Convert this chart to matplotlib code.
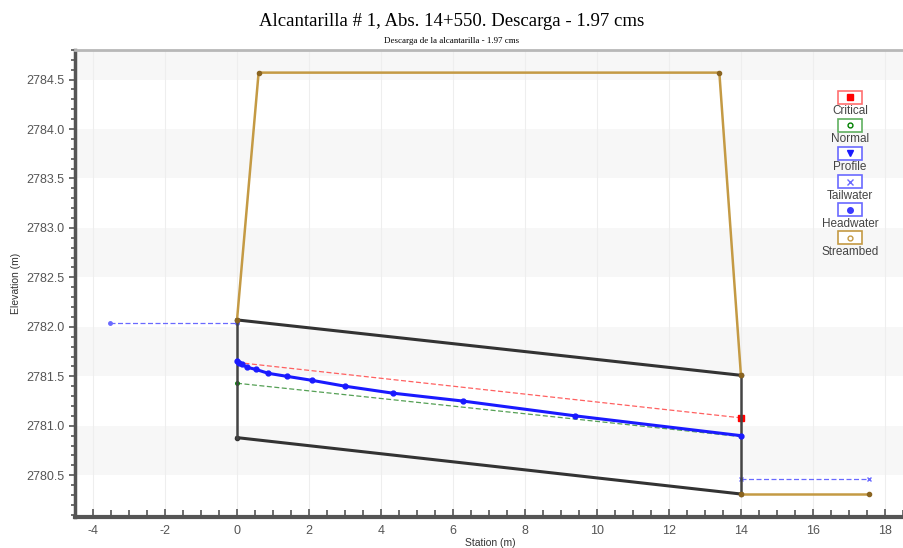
import matplotlib.pyplot as plt
from matplotlib.patches import Rectangle
from matplotlib.ticker import MultipleLocator

plt.rcParams['axes.unicode_minus'] = False

# ---- data ----
station_profile = [0.0, 0.05, 0.13, 0.29, 0.52, 0.87, 1.38, 2.07, 3.0, 4.32, 6.27, 9.4, 14.0]
elev_profile = [2781.65, 2781.63, 2781.62, 2781.59, 2781.57, 2781.53, 2781.50,
                2781.46, 2781.40, 2781.33, 2781.25, 2781.10, 2780.90]

station_critical = [0.0, 14.0]
elev_critical = [2781.64, 2781.08]

station_normal = [0.0, 14.0]
elev_normal = [2781.43, 2780.89]

station_headwater = [-3.53, 0.0]
elev_headwater = [2782.04, 2782.04]

station_tailwater = [14.0, 17.56]
elev_tailwater = [2780.46, 2780.46]

station_road = [0.0, 0.6, 13.4, 14.0]
elev_road = [2782.07, 2784.57, 2784.57, 2781.51]
station_channel = [14.0, 17.56]
elev_channel = [2780.31, 2780.31]

# culvert outline: top, bottom
culvert_top_x = [0.0, 14.0]
culvert_top_y = [2782.07, 2781.51]
culvert_bot_x = [0.0, 14.0]
culvert_bot_y = [2780.88, 2780.31]

legend_names = ['Critical', 'Normal', 'Profile', 'Tailwater', 'Headwater', 'Streambed']

tan = '#c49a44'
fig = plt.figure(figsize=(9.04, 5.48), dpi=100)
ax = fig.add_axes([0.083, 0.057, 0.917, 0.852])

xmin, xmax = -4.5, 18.53
ymin, ymax = 2780.08, 2784.80
ax.set_xlim(xmin, xmax)
ax.set_ylim(ymin, ymax)

# alternating horizontal bands
b = 2780.5
while b < ymax:
    ax.axhspan(b, b + 0.5, color='#f7f7f7', zorder=0, lw=0)
    b += 1.0
for xv in range(-4, 19, 2):
    ax.axvline(xv, color='#eeeeee', lw=0.8, zorder=0.5)

ax.plot(station_headwater, elev_headwater, color='#6a6aff', lw=0.9, ls=(0, (4, 2)),
        marker='o', ms=2.5, zorder=3)
ax.plot(station_tailwater, elev_tailwater, color='#6a6aff', lw=0.9, ls=(0, (4, 2)),
        marker='x', ms=3, zorder=3)
ax.plot(station_critical, elev_critical, color='#ff6060', lw=0.9, ls=(0, (4, 2)),
        zorder=3)
ax.plot(station_critical[-1:], elev_critical[-1:], 's', color='red', ms=4, zorder=4)
ax.plot(station_normal, elev_normal, color='#55a055', lw=0.9, ls=(0, (4, 2)), zorder=3)
ax.plot(station_normal[:1], elev_normal[:1], 'o', color='green', ms=2.5, zorder=4)

ax.plot(culvert_top_x, culvert_top_y, color='#333333', lw=2.2, marker='o', ms=3, zorder=4)
ax.plot(culvert_bot_x, culvert_bot_y, color='#333333', lw=2.2, marker='o', ms=3, zorder=4)
ax.plot([culvert_top_x[0], culvert_bot_x[0]], [culvert_top_y[0], culvert_bot_y[0]],
        color='#444444', lw=1.8, zorder=4)
ax.plot([culvert_top_x[1], culvert_bot_x[1]], [culvert_top_y[1], culvert_bot_y[1]],
        color='#444444', lw=1.8, zorder=4)

ax.plot(station_road, elev_road, color=tan, lw=1.8, marker='o', ms=3,
        mfc='#8a6420', mec='#8a6420', zorder=5)
ax.plot(station_channel, elev_channel, color=tan, lw=1.8, marker='o', ms=3,
        mfc='#8a6420', mec='#8a6420', zorder=5)

ax.plot(station_profile, elev_profile, color='#1a1aff', lw=2.2, marker='o', ms=3.5,
        zorder=6)

# axes styling
ax.spines['right'].set_visible(False)
ax.spines['top'].set_color('#b8b8b8')
ax.spines['top'].set_linewidth(2)
ax.spines['left'].set_color('#555555')
ax.spines['left'].set_linewidth(2.5)
ax.spines['bottom'].set_color('#555555')
ax.spines['bottom'].set_linewidth(3)

ax.xaxis.set_major_locator(MultipleLocator(2))
ax.xaxis.set_minor_locator(MultipleLocator(0.5))
ax.yaxis.set_major_locator(MultipleLocator(0.5))
ax.yaxis.set_minor_locator(MultipleLocator(0.1))
ax.yaxis.set_major_formatter(plt.FormatStrFormatter('%.1f'))
ax.tick_params(axis='x', which='both', direction='in', color='#555555', labelsize=9,
               labelcolor='#555555', pad=6)
ax.tick_params(axis='x', which='major', length=6, width=1.2)
ax.tick_params(axis='x', which='minor', length=5, width=1.2)
ax.tick_params(axis='y', which='both', direction='out', color='#555555', labelsize=9,
               labelcolor='#555555')
ax.tick_params(axis='y', which='major', length=4, width=1.2)
ax.tick_params(axis='y', which='minor', length=3, width=1.2)
for lab in ax.get_xticklabels() + ax.get_yticklabels():
    lab.set_family('Liberation Sans')

ax.set_ylabel('Elevation (m)', fontsize=7.5, family='Liberation Sans', color='#333333',
              labelpad=4)
fig.text(0.542, 0.0, 'Station (m)', fontsize=7.5, family='Liberation Sans', color='#333333',
         va='bottom', ha='center')

fig.text(0.5, 0.96, 'Alcantarilla # 1, Abs. 14+550. Descarga - 1.97 cms', ha='center',
         va='center', fontsize=13.5, family='Liberation Serif')
fig.text(0.5, 0.925, 'Descarga de la alcantarilla - 1.97 cms', ha='center', va='center',
         fontsize=6.5, family='Liberation Serif')

# legend: box with marker, name under it
leg_edge = ['#ff7070', '#60b060', '#6a6aff', '#6a6aff', '#6a6aff', tan]
leg_mark = ['s', 'o', 'v', 'x', 'o', 'o']
leg_mcol = ['red', 'green', '#1a1aff', '#6a6aff', '#3a3aff', tan]
leg_fill = [True, False, True, True, True, False]
cx = 850 / 904
for i, name in enumerate(legend_names):
    by = 1 - (97 + i * 28.2) / 548
    ly = 1 - (111 + i * 28.2) / 548
    fig.patches.append(Rectangle((cx - 12 / 904, by - 6.5 / 548), 24 / 904, 13 / 548,
                                 transform=fig.transFigure, fill=True, fc='white',
                                 ec=leg_edge[i], lw=1.2, zorder=10))
    fig.lines.append(plt.Line2D([cx], [by], transform=fig.transFigure, marker=leg_mark[i],
                                ms=4 if leg_mark[i] != 'o' or leg_fill[i] else 3.5,
                                color=leg_mcol[i],
                                mfc=leg_mcol[i] if leg_fill[i] else 'none', zorder=11))
    fig.text(cx, ly, name, ha='center', va='center', fontsize=8.5, color='#444444',
             family='Liberation Sans')

fig.savefig('out.png', dpi=100)
